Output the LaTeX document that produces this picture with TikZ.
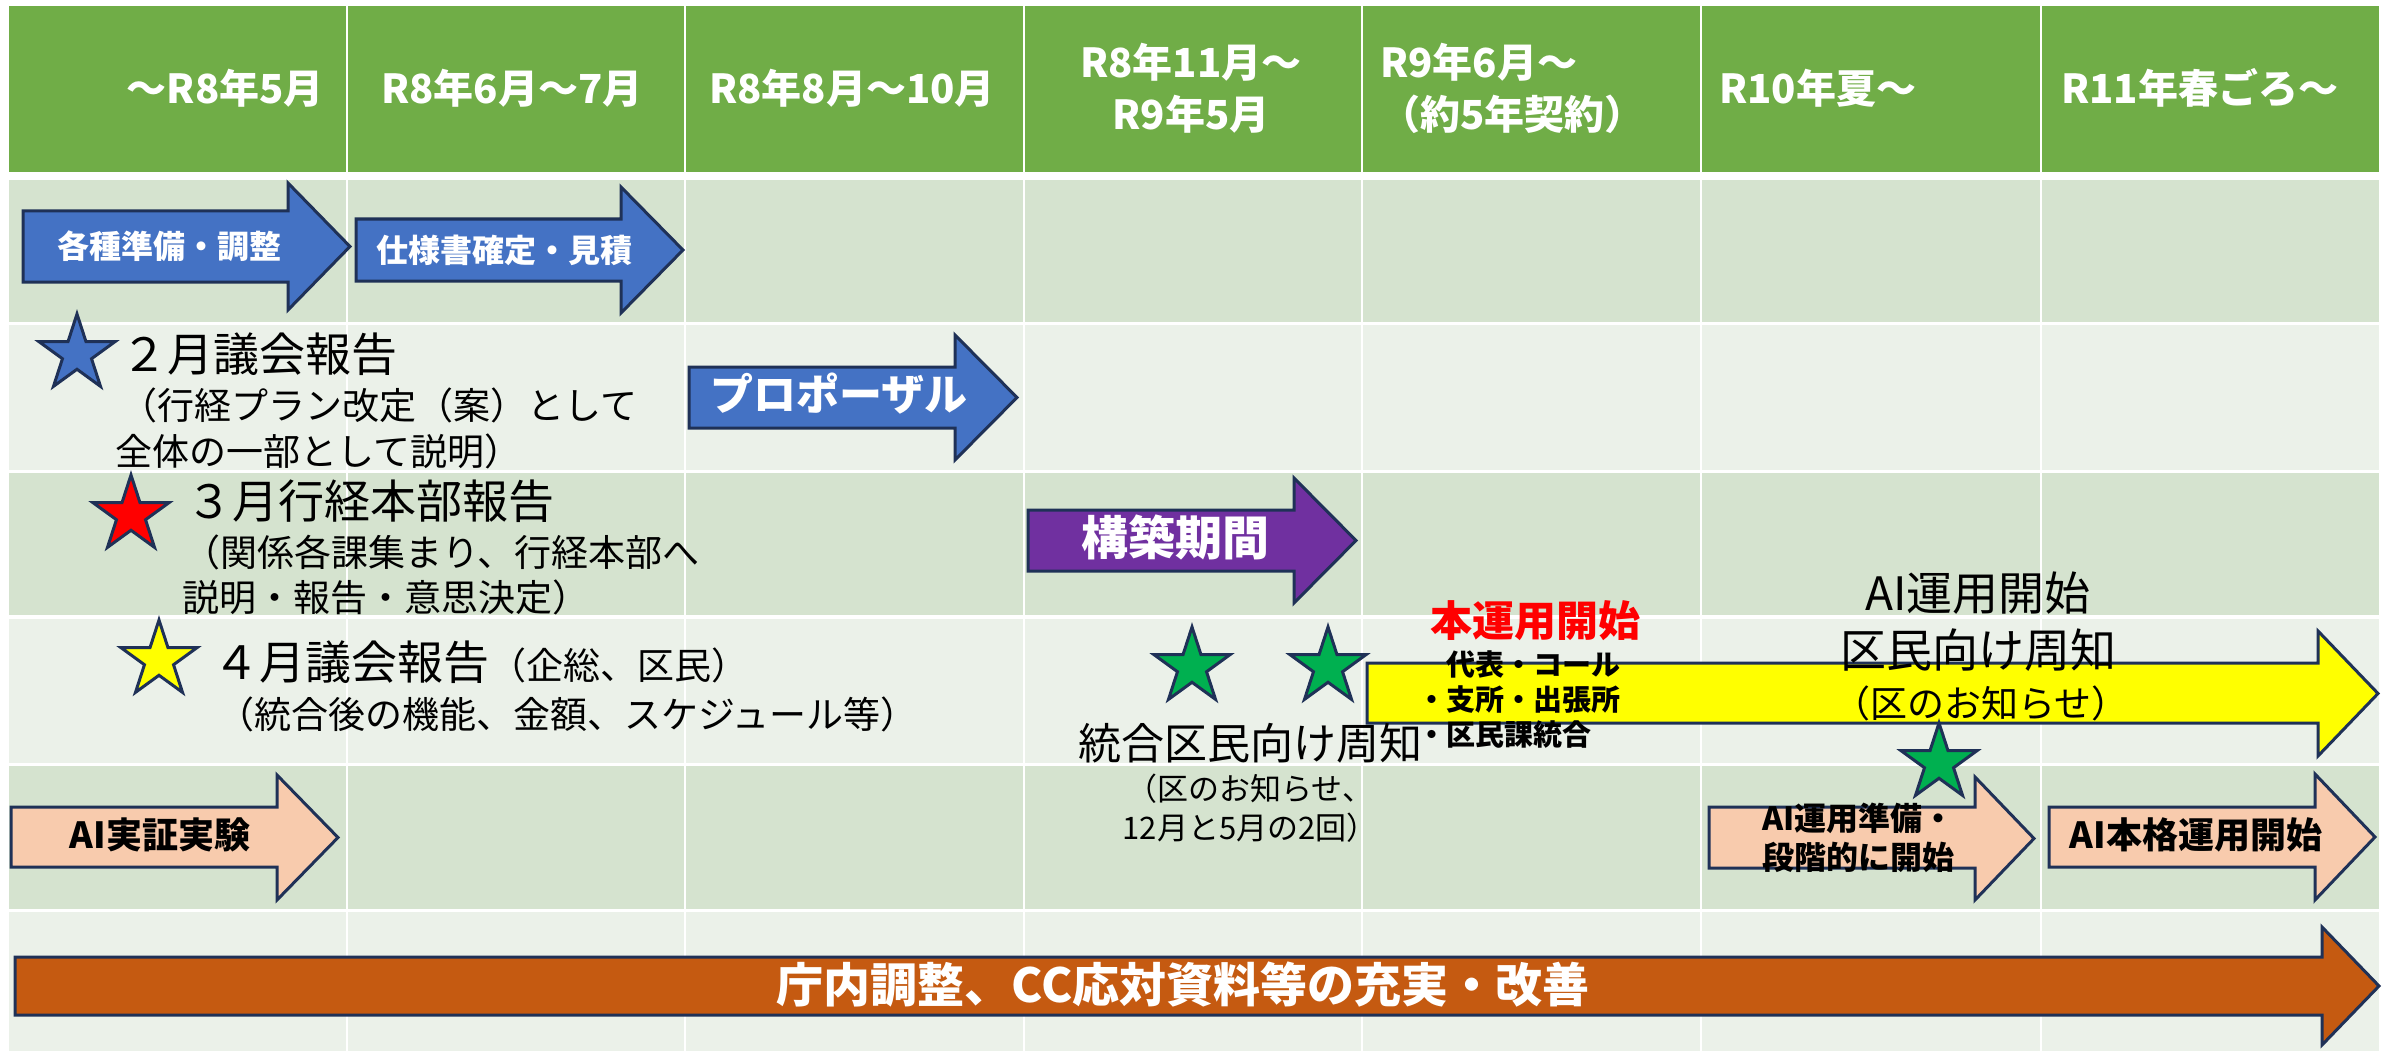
\documentclass[tikz,border=0pt]{standalone}
\usepackage{fontspec}
\setmainfont{Noto Sans CJK JP}
\usetikzlibrary{shapes.geometric}
\definecolor{hdr}{HTML}{70AD47}
\definecolor{rowA}{HTML}{D5E3CF}
\definecolor{rowB}{HTML}{EBF1E9}
\definecolor{edge}{HTML}{1F3157}
\definecolor{blueA}{HTML}{4472C4}
\definecolor{purp}{HTML}{7030A0}
\definecolor{yel}{HTML}{FFFF00}
\definecolor{peach}{HTML}{F8CBAD}
\definecolor{rust}{HTML}{C55A11}
\definecolor{grn}{HTML}{00B050}
\newcommand\fsz[1]{\fontsize{#1}{#1}\selectfont}
% #1 style, #2 left, #3 head base, #4 tip, #5 body top, #6 body bottom, #7 head top, #8 head bottom
\newcommand\blockarrow[8]{%
  \draw[#1] (#2,#5) -- (#3,#5) -- (#3,#7) -- (#4,{(#7+#8)/2}) -- (#3,#8) -- (#3,#6) -- (#2,#6) -- cycle;}
\tikzset{
  arrowbox/.style={draw=edge, line width=3pt, line join=miter},
  mystar/.style={star, star points=5, star point ratio=2.618, inner sep=0pt,
    draw=edge, line width=3pt, minimum size=80pt},
  hdrtext/.style={text=white, inner sep=0pt, font=\bfseries\fontsize{40}{52}\selectfont},
  bodytext/.style={text=black, inner sep=0pt, anchor=west},
  wtext/.style={text=white, inner sep=0pt},
  btext/.style={text=black, inner sep=0pt},
}
\begin{document}
\begin{tikzpicture}[x=1pt,y=-1pt]
\useasboundingbox (0,0) rectangle (2387,1051);
\fill[white] (0,0) rectangle (2387,1051);
% table cells
\foreach \xl/\xr in {9/346,348/684,686/1023,1025/1361,1363/1700,1702/2040,2042/2379}{
  \fill[hdr] (\xl,6) rectangle (\xr,172);
  \foreach \yt/\yb/\c in {180/322/rowA,325/470/rowB,473/615/rowA,619/763/rowB,766/909/rowA,912/1051/rowB}{
    \fill[\c] (\xl,\yt) rectangle (\xr,\yb);
  }
}
% header texts
\node[hdrtext, anchor=east] (h1) at (324,88) {～R8年5月};
\node[hdrtext] (h2) at (512,88) {R8年6月～7月};
\node[hdrtext] (h3) at (852,88) {R8年8月～10月};
\node[hdrtext, align=center] (h4) at (1191,88) {R8年11月～\\R9年5月};
\node[hdrtext, align=left, anchor=west] (h5) at (1380,88) {R9年6月～\\（約5年契約）};
\node[hdrtext, anchor=west] (h6) at (1719,88) {R10年夏～};
\node[hdrtext, anchor=west] (h7) at (2061,88) {R11年春ごろ～};

% block arrows
\blockarrow{arrowbox, fill=blueA}{23}{288}{350}{211}{282}{183}{310}
\blockarrow{arrowbox, fill=blueA}{356}{621}{683}{219}{281}{187}{313}
\blockarrow{arrowbox, fill=blueA}{689}{955}{1017}{367}{428}{335}{460}
\blockarrow{arrowbox, fill=purp}{1028}{1294}{1356}{510}{571}{478}{603}
\blockarrow{arrowbox, fill=yel}{1367}{2318}{2378}{663}{723}{631}{756}
\blockarrow{arrowbox, fill=peach}{11}{277}{338}{807}{867}{775}{900}
\blockarrow{arrowbox, fill=peach}{1709}{1975}{2034}{807}{868}{777}{900}
\blockarrow{arrowbox, fill=peach}{2049}{2315}{2375}{807}{867}{774}{900}
\blockarrow{arrowbox, fill=rust}{15}{2322}{2379}{957}{1015}{927}{1045}

% arrow texts
\node[wtext, font=\bfseries\fsz{32}] (a1) at (169,246) {各種準備・調整};
\node[wtext, font=\bfseries\fsz{32}] (a2) at (504,250) {仕様書確定・見積};
\node[wtext, font=\bfseries\fsz{43}] (a3) at (839,394) {プロポーザル};
\node[wtext, font=\bfseries\fsz{47}] (a4) at (1175,537) {構築期間};
\node[btext, font=\bfseries\fsz{36}] (a6) at (160,835) {AI実証実験};
\node[btext, font=\bfseries\fontsize{32}{39}\selectfont, align=left, anchor=west] (a7) at (1762,838) {AI運用準備・\\段階的に開始};
\node[btext, font=\bfseries\fsz{36}] (a8) at (2196,835) {AI本格運用開始};
\node[wtext, font=\bfseries\fsz{47}] (a9) at (1183,985) {庁内調整、CC応対資料等の充実・改善};

% stars
\node[mystar, fill=blueA] (s1) at (77,354) {};
\node[mystar, fill=red] (s2) at (131,515) {};
\node[mystar, fill=yel] (s3) at (159,660) {};
\node[mystar, fill=grn] (s4) at (1192,667) {};
\node[mystar, fill=grn] (s5) at (1328,667) {};
\node[mystar, fill=grn] (s6) at (1939,763) {};

% row texts
\node[bodytext, font=\fsz{46}] (t2a) at (121,354) {２月議会報告};
\node[bodytext, font=\fsz{37}] (t2b) at (120,405) {（行経プラン改定（案）として};
\node[bodytext, font=\fsz{37}] (t2c) at (115,451) {全体の一部として説明）};
\node[bodytext, font=\fsz{46}] (t3a) at (186,501) {３月行経本部報告};
\node[bodytext, font=\fsz{37}] (t3b) at (183,552) {（関係各課集まり、行経本部へ};
\node[bodytext, font=\fsz{37}] (t3c) at (182,597) {説明・報告・意思決定）};
\node[bodytext] (t4a) at (213,662) {{\fsz{46}４月議会報告}{\fsz{37}（企総、区民）}};
\node[bodytext, font=\fsz{37}] (t4b) at (217,714) {（統合後の機能、金額、スケジュール等）};

\node[btext, font=\fsz{43}] (t4c) at (1250,743) {統合区民向け周知};
\node[btext, font=\fontsize{31}{39}\selectfont, align=center] (t4d) at (1250,808) {（区のお知らせ、\\12月と5月の2回）};
\node[btext, text=red, font=\bfseries\fsz{42}] (t4e) at (1535,621) {本運用開始};
\node[btext, font=\bfseries\fontsize{29}{35}\selectfont, align=left, anchor=west] (t4f) at (1417,700) {\phantom{・}代表・コール\\・支所・出張所\\・区民課統合};
\node[btext, font=\fontsize{46}{57}\selectfont, align=center] (t4g) at (1978,622) {AI運用開始\\区民向け周知};
\node[btext, font=\fsz{37}] (t4h) at (1981,703) {（区のお知らせ）};
\end{tikzpicture}
\end{document}
